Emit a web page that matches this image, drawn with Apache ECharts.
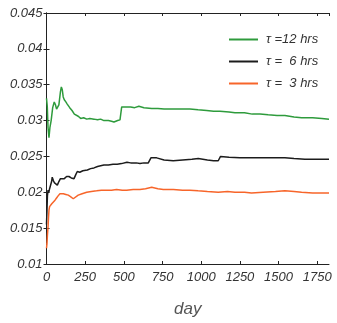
<!DOCTYPE html>
<html>
<head>
<meta charset="utf-8">
<script src="https://cdn.jsdelivr.net/npm/echarts@6/dist/echarts.min.js"></script>
<style>html,body{margin:0;padding:0;background:#fff}#c{width:337px;height:323px}</style>
</head>
<body>
<div id="c"></div>
<script>
const seriesNames = ['\u03c4 =12 hrs', '\u03c4 =  6 hrs', '\u03c4 =  3 hrs'];
const yTicks = [0.01, 0.015, 0.02, 0.025, 0.03, 0.035, 0.04, 0.045];
const xTicks = [0, 250, 500, 750, 1000, 1250, 1500, 1750];

const greenDays = [0,5,10,16,22,30,40,50,58,65,72,80,90,96,102,108,115,125,134,150,165,180,190,205,221,240,260,280,307,330,350,371,400,420,436,460,475,480,486,510,544,570,597,630,680,720,760,819,870,927,980,1035,1080,1121,1180,1218,1280,1330,1380,1433,1490,1541,1600,1649,1720,1780,1826];
const greenVals = [0.0331,0.0320,0.0290,0.0276,0.0290,0.0300,0.0318,0.0326,0.0322,0.0316,0.0315,0.0322,0.0340,0.0347,0.0343,0.0333,0.0329,0.0326,0.0323,0.0318,0.0314,0.0309,0.0307,0.0306,0.0303,0.0304,0.0302,0.0303,0.0302,0.0301,0.0302,0.0300,0.0300,0.0299,0.0298,0.0300,0.0301,0.0302,0.0319,0.0319,0.0319,0.0318,0.0320,0.0318,0.0317,0.0317,0.0316,0.0316,0.0316,0.0316,0.0315,0.0314,0.0313,0.0313,0.0312,0.0311,0.0311,0.0309,0.0309,0.0308,0.0307,0.0307,0.0305,0.0304,0.0304,0.0303,0.0302];

const blackDays = [0,3,6,10,15,20,27,33,37,45,52,59,70,80,90,102,115,130,145,160,178,190,199,215,235,264,285,307,330,350,371,400,430,457,485,495,520,544,580,604,630,658,668,675,712,760,819,880,940,981,1040,1080,1110,1118,1125,1180,1250,1300,1347,1420,1480,1541,1600,1670,1750,1826];
const blackVals = [0.0155,0.0175,0.0195,0.0203,0.0200,0.0205,0.0207,0.0215,0.0221,0.0216,0.0213,0.0212,0.0210,0.0215,0.0219,0.0221,0.0219,0.0222,0.0222,0.0220,0.0219,0.0225,0.0229,0.0228,0.0230,0.0231,0.0233,0.0234,0.0236,0.0237,0.0238,0.0238,0.0239,0.0239,0.0240,0.0242,0.0242,0.0241,0.0241,0.0240,0.0241,0.0241,0.0241,0.0248,0.0248,0.0245,0.0244,0.0245,0.0246,0.0247,0.0245,0.0244,0.0244,0.0244,0.0250,0.0249,0.0248,0.0248,0.0248,0.0248,0.0248,0.0248,0.0247,0.0246,0.0246,0.0246];

const orangeDays = [0,3,6,10,13,16,20,25,34,45,55,65,75,87,98,109,125,141,155,165,173,185,205,230,260,290,324,355,389,420,453,490,518,560,604,640,680,720,755,820,880,927,980,1040,1110,1170,1218,1280,1325,1400,1480,1541,1600,1649,1720,1780,1826];
const orangeVals = [0.0122,0.0128,0.0140,0.0152,0.0165,0.0175,0.0180,0.0178,0.0184,0.0186,0.0189,0.0192,0.0195,0.0198,0.0199,0.0198,0.0197,0.0196,0.0194,0.0192,0.0191,0.0193,0.0196,0.0198,0.0200,0.0201,0.0202,0.0203,0.0203,0.0203,0.0204,0.0203,0.0203,0.0204,0.0204,0.0205,0.0207,0.0205,0.0204,0.0204,0.0203,0.0203,0.0202,0.0201,0.0200,0.0201,0.0200,0.0200,0.0199,0.0200,0.0201,0.0202,0.0201,0.0200,0.0199,0.0199,0.0199];

const colors = ['#2e9b3c', '#1c1c1c', '#f7652a'];
const pair = (d, v) => d.map((x, i) => [x, v[i]]);
const font = {fontFamily: 'Liberation Sans', fontStyle: 'italic', fontSize: 13, color: '#333'};
const axisLine = {show: true, lineStyle: {color: '#222', width: 1}};
const tick = {show: true, inside: true, length: 3, lineStyle: {color: '#222'}};

const chart = echarts.init(document.getElementById('c'), null, {renderer: 'canvas'});
chart.setOption({
  animation: false,
  grid: {left: 46.5, right: 8, top: 13, bottom: 55, containLabel: false},
  legend: {
    orient: 'vertical', left: 224, top: 28, itemWidth: 29, itemHeight: 2, itemGap: 9,
    icon: 'rect',
    textStyle: Object.assign({}, font, {padding: [0, 0, 0, 3], lineHeight: 13}),
    data: seriesNames.map(n => ({name: n, icon: 'rect'}))
  },
  xAxis: [{
    type: 'value', min: 0, max: 1826, interval: 250, position: 'bottom',
    axisLine, axisTick: tick, splitLine: {show: false},
    axisLabel: Object.assign({}, font, {margin: 7, showMaxLabel: false, formatter: v => String(v)}),
    name: 'day', nameLocation: 'middle', nameGap: 37,
    nameTextStyle: {fontFamily: 'Liberation Sans', fontStyle: 'italic', fontSize: 17, color: '#555'}
  }, {
    type: 'value', min: 0, max: 1826, interval: 250, position: 'top',
    axisLine, axisTick: tick, splitLine: {show: false}, axisLabel: {show: false}
  }],
  yAxis: [{
    type: 'value', min: yTicks[0], max: yTicks[yTicks.length - 1], interval: 0.005, position: 'left',
    axisLine, axisTick: tick, splitLine: {show: false},
    axisLabel: Object.assign({}, font, {margin: 4, formatter: v => String(+v.toFixed(3))})
  }, {
    type: 'value', min: yTicks[0], max: yTicks[yTicks.length - 1], interval: 0.005, position: 'right',
    axisLine, axisTick: tick, splitLine: {show: false}, axisLabel: {show: false}
  }],
  series: [
    {name: seriesNames[0], type: 'line', symbol: 'none', data: pair(greenDays, greenVals), lineStyle: {color: colors[0], width: 1.5}, itemStyle: {color: colors[0]}},
    {name: seriesNames[1], type: 'line', symbol: 'none', data: pair(blackDays, blackVals), lineStyle: {color: colors[1], width: 1.5}, itemStyle: {color: colors[1]}},
    {name: seriesNames[2], type: 'line', symbol: 'none', data: pair(orangeDays, orangeVals), lineStyle: {color: colors[2], width: 1.5}, itemStyle: {color: colors[2]}}
  ]
});
</script>
</body>
</html>
